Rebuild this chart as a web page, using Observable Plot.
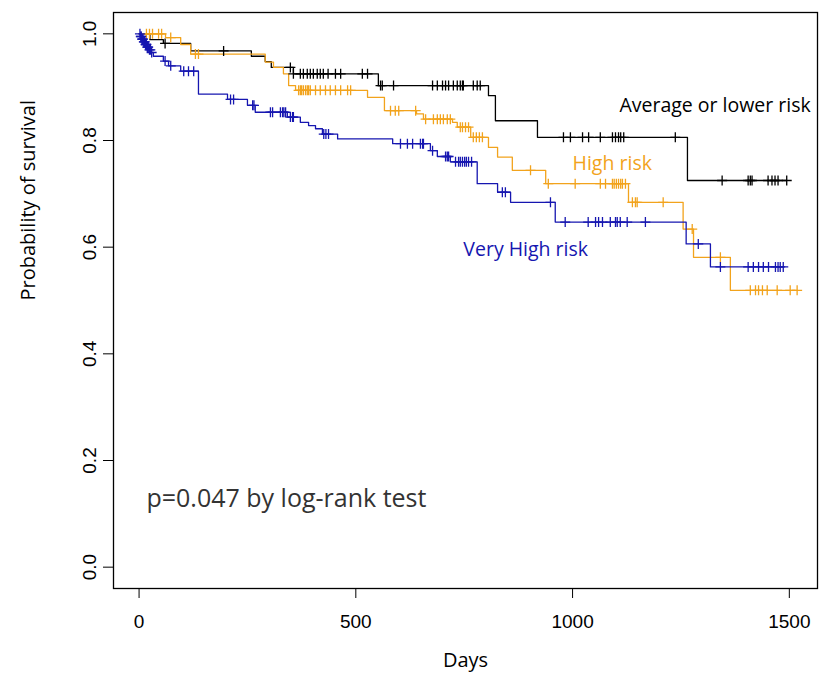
<!DOCTYPE html>
<html>
<head>
<meta charset="utf-8">
<script src="https://cdn.jsdelivr.net/npm/d3@7"></script>
<script src="https://cdn.jsdelivr.net/npm/@observablehq/plot@0.6"></script>
<style>
  html, body { margin: 0; padding: 0; background: #fff; }
  #chart svg { display: block; }
</style>
</head>
<body>
<div id="chart"></div>
<script>
// ---- data ----
const groups = ["Average or lower risk", "High risk", "Very High risk"];
const groupColors = ["#000000", "#F2A31C", "#1616B0"];

const avgTimes = [0, 25, 56, 119, 259, 291, 305, 356, 552, 806, 822, 919, 1265];
const avgSurv  = [1, 0.989, 0.982, 0.968, 0.958, 0.948, 0.937, 0.925, 0.903, 0.884, 0.837, 0.806, 0.725];
const avgEnd = 1494;
const avgCensor = [60, 195, 349, 356, 372, 379, 388, 395, 402, 411, 418, 425, 436, 453, 465, 515, 527, 557, 561, 587, 677, 688, 700, 707, 714, 725, 734, 741, 746, 748, 771, 780, 787, 979, 995, 1023, 1037, 1064, 1092, 1099, 1106, 1111, 1118, 1237, 1345, 1405, 1410, 1414, 1451, 1460, 1467, 1474, 1494];

const highTimes = [0, 61, 96, 119, 291, 310, 333, 345, 361, 527, 566, 640, 656, 723, 734, 765, 806, 827, 861, 938, 1129, 1255, 1279, 1364];
const highSurv  = [1, 0.993, 0.98, 0.962, 0.947, 0.937, 0.925, 0.903, 0.894, 0.881, 0.856, 0.850, 0.840, 0.834, 0.825, 0.806, 0.787, 0.769, 0.744, 0.719, 0.684, 0.634, 0.581, 0.519];
const highEnd = 1518;
const highCensor = [17, 24, 31, 45, 52, 73, 130, 137, 368, 372, 375, 379, 384, 388, 391, 395, 407, 418, 430, 441, 453, 465, 481, 488, 580, 591, 599, 638, 661, 679, 688, 695, 702, 711, 718, 741, 746, 753, 760, 771, 778, 785, 792, 903, 944, 1006, 1064, 1076, 1092, 1096, 1101, 1106, 1111, 1115, 1122, 1138, 1145, 1149, 1209, 1276, 1341, 1410, 1422, 1429, 1438, 1449, 1472, 1502, 1518];

const vhTimes = [0, 3, 6, 10, 14, 18, 22, 27, 33, 56, 68, 96, 137, 204, 250, 268, 342, 372, 391, 407, 423, 458, 585, 672, 688, 718, 780, 827, 857, 960, 1262, 1318];
const vhSurv  = [1, 0.995, 0.99, 0.985, 0.98, 0.975, 0.97, 0.965, 0.958, 0.949, 0.94, 0.93, 0.887, 0.877, 0.866, 0.853, 0.844, 0.834, 0.828, 0.822, 0.812, 0.803, 0.794, 0.781, 0.770, 0.760, 0.719, 0.703, 0.684, 0.647, 0.606, 0.563];
const vhEnd = 1486;
const vhCensor = [2, 4, 5, 7, 8, 9, 11, 12, 13, 15, 16, 17, 19, 20, 21, 24, 26, 29, 60, 73, 103, 114, 126, 211, 218, 262, 265, 303, 308, 326, 331, 334, 338, 349, 354, 356, 426, 431, 437, 603, 619, 631, 649, 654, 656, 677, 707, 711, 714, 730, 737, 741, 746, 751, 755, 760, 767, 838, 845, 949, 983, 1036, 1053, 1060, 1069, 1087, 1099, 1103, 1110, 1126, 1168, 1290, 1341, 1405, 1417, 1429, 1440, 1452, 1468, 1474, 1479, 1486];

const xTicks = [0, 500, 1000, 1500];
const yTicks = [0, 0.2, 0.4, 0.6, 0.8, 1.0];
const xLabel = "Days";
const yLabel = "Probability of survival";

const labelX = [1108, 1000, 748];
const labelY = [0.866, 0.757, 0.595];
const pText = "p=0.047 by log-rank test";
const pX = 17, pY = 0.128;

// ---- build tables ----
const series = [
  {g: groups[0], t: avgTimes, s: avgSurv, end: avgEnd, c: avgCensor},
  {g: groups[1], t: highTimes, s: highSurv, end: highEnd, c: highCensor},
  {g: groups[2], t: vhTimes, s: vhSurv, end: vhEnd, c: vhCensor}
];
const lineData = [];
const censorData = [];
for (const S of series) {
  S.t.forEach((t, i) => lineData.push({group: S.g, time: t, surv: S.s[i]}));
  lineData.push({group: S.g, time: S.end, surv: S.s[S.s.length - 1]});
  for (const ct of S.c) {
    let k = 0;
    for (let i = 0; i < S.t.length; i++) if (S.t[i] <= ct) k = i;
    censorData.push({group: S.g, time: ct, surv: S.s[k]});
  }
}
const labelData = groups.map((g, i) => ({group: g, x: labelX[i], y: labelY[i]}));

const plusSymbol = {
  draw(ctx, size) {
    const r = Math.sqrt(size / Math.PI);
    ctx.moveTo(-r, 0); ctx.lineTo(r, 0);
    ctx.moveTo(0, -r); ctx.lineTo(0, r);
  }
};

const sans = "'Open Sans', 'Noto Sans', sans-serif";
const tickFont = "'Liberation Sans', Arial, sans-serif";

const chart = Plot.plot({
  width: 821,
  height: 675,
  marginLeft: 113,
  marginRight: 4,
  marginTop: 12,
  marginBottom: 87,
  style: {fontFamily: tickFont, background: "#fff", color: "#000"},
  x: {domain: [-59, 1565]},
  y: {domain: [-0.04, 1.04]},
  color: {domain: groups, range: groupColors},
  marks: [
    Plot.frame({stroke: "#000", strokeWidth: 1.3}),
    Plot.axisX({ticks: xTicks, tickSize: 10, tickPadding: 16, fontSize: 19, stroke: "#000",
      tickFormat: d => String(d), label: null}),
    Plot.axisY({ticks: yTicks, tickSize: 10, tickPadding: 8, tickRotate: -90, fontSize: 19,
      tickFormat: d3.format(".1f"), label: null}),
    Plot.text([xLabel], {frameAnchor: "bottom", dy: 78, text: d => d, fontSize: 20, fontFamily: sans, fill: "#000"}),
    Plot.text([yLabel], {frameAnchor: "left", dx: -85, rotate: -90, text: d => d, fontSize: 20, fontFamily: sans, fill: "#000"}),
    Plot.line(lineData, {x: "time", y: "surv", z: "group", stroke: "group", curve: "step-after", strokeWidth: 1.3}),
    Plot.dot(censorData, {x: "time", y: "surv", stroke: "group", symbol: plusSymbol, r: 5, strokeWidth: 1.3, fill: "none"}),
    Plot.text(labelData, {x: "x", y: "y", text: "group", fill: "group", textAnchor: "start", lineAnchor: "middle",
      fontSize: 19.5, fontFamily: sans}),
    Plot.text([pText], {x: () => pX, y: () => pY, text: d => d, fill: "#333", textAnchor: "start", lineAnchor: "middle",
      fontSize: 25, fontFamily: sans})
  ]
});
document.getElementById("chart").appendChild(chart);
</script>
</body>
</html>
